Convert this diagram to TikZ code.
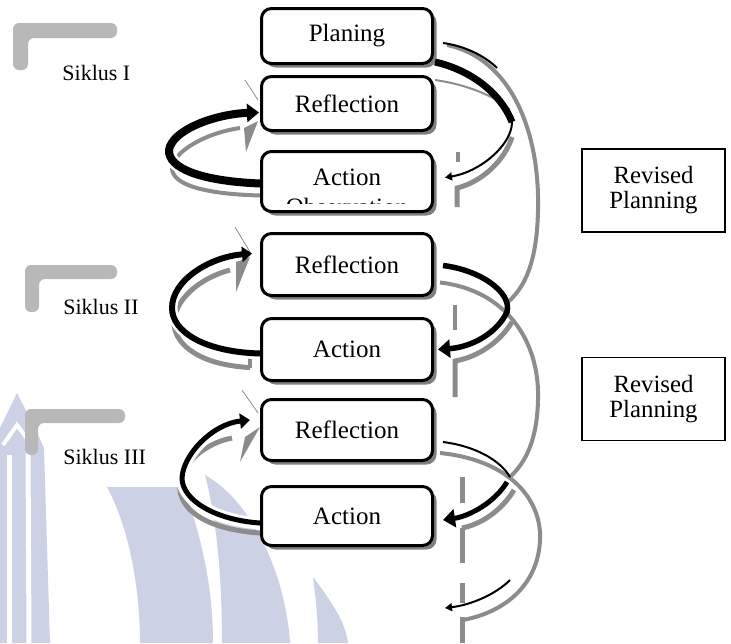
\documentclass[tikz,border=0pt]{standalone}
\usepackage{fontspec}
\setmainfont{Liberation Serif}
\usetikzlibrary{arrows.meta,positioning,calc,shadows}
\definecolor{ShGray}{HTML}{8C8C8C}
\definecolor{BoxSh}{HTML}{7F7F7F}
\definecolor{LGray}{HTML}{B8B8B8}
\definecolor{Lav}{HTML}{CDD1E5}

\begin{document}
\begin{tikzpicture}[x=0.5pt,y=-0.5pt,
    stage/.style={draw,line width=1.5pt,rounded corners=5pt,fill=white,
      minimum width=85.5pt,inner sep=0pt,font=\fontsize{12.5}{15}\selectfont,
      drop shadow={shadow xshift=2pt,shadow yshift=-2pt,fill=BoxSh,opacity=1}},
    revbox/.style={draw,line width=0.7pt,minimum width=71.5pt,minimum height=41.5pt,
      align=center,inner sep=0pt,font=\fontsize{12.4}{12.5}\selectfont},
    siklus/.style={anchor=west,inner sep=0pt,font=\fontsize{11}{13}\selectfont},
    corner/.style={fill=LGray,rounded corners=3pt},
    shd/.style={draw=ShGray},
    halo/.style={draw=white,line width=#1},
    bigtip/.style={-{Triangle[length=6pt,width=9pt]}},
    midtip/.style={-{Triangle[length=5pt,width=7.5pt]}},
    smalltip/.style={-{Triangle[length=3.5pt,width=4pt]}}]
  \useasboundingbox (0,0) rectangle (731,643);

  % watermark
  \fill[Lav] (0,643) -- (0,428) -- (17,393) -- (36,430) -- (44,448) -- (50,643) -- cycle;
  \draw[white,line width=2.5pt] (9,643) -- (9,455);
  \draw[white,line width=2.5pt] (29,643) -- (28,450);
  \draw[white,line width=2pt] (3,445) -- (17,425) -- (33,447);
  \fill[Lav] (107,487) -- (183,487) .. controls (203,540) and (213,590) .. (213,643)
    -- (140,643) .. controls (140,590) and (130,530) .. (107,487) -- cycle;
  \fill[Lav] (205,475) .. controls (250,500) and (285,570) .. (290,643)
    -- (222,643) .. controls (222,580) and (217,520) .. (205,475) -- cycle;
  \fill[Lav] (313,577) .. controls (330,600) and (345,620) .. (348,643)
    -- (318,643) .. controls (318,620) and (316,600) .. (313,577) -- cycle;

  % cycle labels
  \fill[corner] (13,70) -- (13,23) -- (117,23) -- (117,38) -- (28,38) -- (28,70) -- cycle;
  \fill[corner] (25,312) -- (25,265) -- (117,265) -- (117,279) -- (39,279) -- (39,312) -- cycle;
  \fill[corner] (25,455) -- (25,409) -- (125,409) -- (125,423) -- (38,423) -- (38,455) -- cycle;
  \node[siklus] (S1) at (62,73) {Siklus I};
  \node[siklus] (S2) at (63,307) {Siklus II};
  \node[siklus] (S3) at (63,457) {Siklus III};

  % stages
  \node[stage,minimum height=27.5pt] (P) at (347,36) {Planing};
  \node[stage,minimum height=27pt,below=5pt of P] (R1) {Reflection};
  \node[stage,minimum height=30pt,text depth=4.5pt,below=9pt of R1] (A1) {Action};
  \begin{scope}
    \clip ($(A1.north west)+(2,2)$) rectangle ($(A1.south east)+(-2,-10)$);
    \node[anchor=base,font=\fontsize{12.5}{15}\selectfont] (A1o) at ($(A1.south)+(0,2)$) {Observation};
  \end{scope}
  \node[stage,minimum height=31pt,below=9.5pt of A1] (R2) {Reflection};
  \node[stage,minimum height=31pt,below=10pt of R2] (A2) {Action};
  \node[stage,minimum height=30.5pt,below=8pt of A2] (R3) {Reflection};
  \node[stage,minimum height=29.5pt,below=11.5pt of R3] (A3) {Action};

  \node[revbox] (RP1) at (653.5,190.5) {Revised\\Planning};
  \node[revbox,below=62pt of RP1] (RP2) {Revised\\Planning};

  % left loops
  \draw[ShGray,line width=0.4pt] (245,80) -- (258,100);
  \draw[ShGray,line width=0.4pt] (235,227) -- (250,252);
  \draw[ShGray,line width=0.4pt] (242,390) -- (258,413);
  \fill[ShGray] (244,128) -- (258,121) -- (246,152) -- cycle;
  \fill[ShGray] (236,262) -- (250,257) -- (236,292) -- cycle;
  \fill[ShGray] (245,437) -- (260,427) -- (240,462) -- cycle;

  \draw[shd,line width=2pt] ($(A1.west)+(0,14)$) .. controls (205,194) and (172,185) .. (172,168)
    .. controls (173,152) and (205,133) .. (240,128);
  \draw[halo=6.5pt] ($(A1.west)+(-4,2)$) .. controls (200,181) and (168,168) .. (169,150)
    .. controls (172,130) and (210,115) .. (245,112);
  \draw[line width=4pt,bigtip] ($(A1.west)+(0,2)$) .. controls (200,181) and (168,168) .. (169,150)
    .. controls (172,130) and (215,114) .. ($(R1.west)+(-1,9)$);

  \draw[shd,line width=2.5pt] ($(A2.west)+(-10,18)$) .. controls (200,365) and (176,345) .. (174,325)
    .. controls (173,300) and (200,278) .. (230,270);
  \draw[shd,line width=2pt] ($(A2.west)+(-10,0)$) -- ($(A2.west)+(-10,18)$);
  \draw[halo=5.5pt] ($(A2.west)+(-4,4)$) .. controls (205,352) and (172,332) .. (172,308)
    .. controls (172,280) and (205,259) .. (240,255);
  \draw[line width=3pt,midtip] ($(A2.west)+(0,4)$) .. controls (205,352) and (172,332) .. (172,308)
    .. controls (172,280) and (210,257) .. ($(R2.west)+(-8,-11)$);

  \draw[shd,line width=2.5pt] ($(A3.west)+(0,17)$) .. controls (215,530) and (183,515) .. (180,490)
    .. controls (178,465) and (205,443) .. (232,438);
  \draw[halo=6pt] ($(A3.west)+(-4,7)$) .. controls (215,520) and (182,500) .. (182,478)
    .. controls (183,455) and (210,426) .. (240,421);
  \draw[line width=2.5pt,midtip] ($(A3.west)+(0,7)$) .. controls (215,520) and (182,500) .. (182,478)
    .. controls (183,455) and (212,424) .. ($(R3.west)+(-10,-10)$);

  % right side, cycle 1
  \coordinate (j1) at (508,302);
  \draw[shd,line width=2pt] ($(P.east)+(13,9)$) .. controls (510,58) and (540,130) .. (538,210)
    .. controls (537,262) and (525,287) .. (j1);
  \draw[line width=1pt] ($(P.east)+(9,7)$) .. controls (465,46) and (485,56) .. (497,68);
  \draw[shd,line width=1pt] ($(P.east)+(1,44)$) .. controls (470,85) and (498,98) .. (510,110);
  \draw[shd,line width=2.5pt] (512,137) .. controls (505,160) and (482,182) .. (457,188) -- (457,207);
  \draw[shd,line width=2pt] (458,152) -- (458,162);
  \draw[line width=3.5pt] ($(P.east)+(1,26)$) .. controls (470,70) and (500,92) .. (512,122) coordinate (k1);
  \draw[line width=1pt,smalltip] (k1) .. controls (512,145) and (480,172) .. ($(A1.east)+(11,-4)$);

  % right side, cycle 2
  \coordinate (j2) at (510,477);
  \draw[shd,line width=2pt] ($(R2.east)+(6,18)$) .. controls (505,290) and (540,340) .. (538,400)
    .. controls (537,440) and (526,462) .. (j2);
  \draw[shd,line width=2.5pt] (512,322) .. controls (500,342) and (478,357) .. (455,361) -- (455,397);
  \draw[shd,line width=2pt] (455,305) -- (455,330);
  \draw[line width=2.75pt,bigtip] ($(R2.east)+(9,1)$) .. controls (480,270) and (512,292) .. (507,312)
    .. controls (497,333) and (472,347) .. ($(A2.east)+(4,0)$);

  % right side, cycle 3
  \coordinate (nx) at (445,608);
  \draw[shd,line width=2pt] ($(R3.east)+(6,23)$) .. controls (510,460) and (542,500) .. (540,540)
    .. controls (538,585) and (505,612) .. (463,620);
  \draw[shd,line width=2.5pt] (514,490) .. controls (502,510) and (482,524) .. (462,528);
  \foreach \ya/\yb in {477/503,528/563,583/603,617/643}
    \draw[shd,line width=2.5pt] (462,\ya) -- (462,\yb);
  \draw[line width=1pt] ($(R3.east)+(9,12)$) .. controls (475,446) and (500,460) .. (510,477);
  \draw[line width=2.5pt,bigtip] (507,482) .. controls (495,502) and (470,516) .. ($(A3.east)+(9,4)$);
  \draw[line width=1pt,smalltip] (510,580) .. controls (495,595) and (470,605) .. (nx);
\end{tikzpicture}
\end{document}
